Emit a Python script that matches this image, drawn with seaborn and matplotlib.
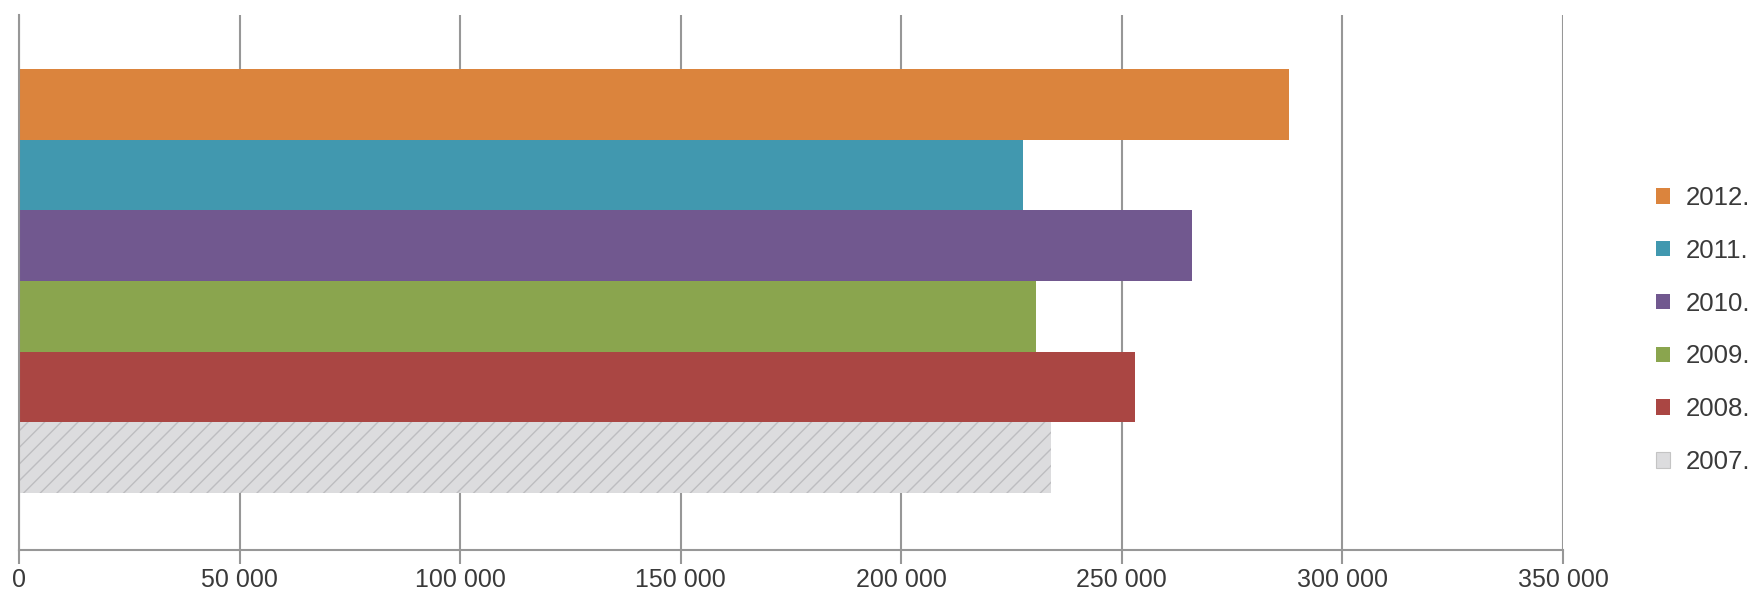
import pandas as pd
import matplotlib
matplotlib.use('Agg')
import matplotlib.pyplot as plt
import seaborn as sns
from matplotlib.patches import Patch
from matplotlib.ticker import FuncFormatter

sns.set_style('white')
plt.rcParams['font.family'] = ['Liberation Sans', 'DejaVu Sans']

# 데이터
years = ['2012.', '2011.', '2010.', '2009.', '2008.', '2007.']
values = [288000, 227700, 266000, 230500, 253000, 234000]
colors = ['#DB843D', '#4198AF', '#71588F', '#8AA54E', '#AA4643', '#DCDCDE']

df = pd.DataFrame({'year': years, 'value': values})

grid_c = '#979797'
text_c = '#3A3A3A'

fig = plt.figure(figsize=(17.64, 5.95), dpi=100)
ax = fig.add_axes([19 / 1764, 1 - 550 / 595, (1563 - 19) / 1764, (550 - 15) / 595])

sns.barplot(data=df, x='value', y='year', hue='year', order=years, hue_order=years,
            palette=dict(zip(years, colors)), saturation=1, width=1.0,
            orient='h', legend=False, ax=ax, zorder=2, linewidth=0)

# 2007 막대는 대리석 무늬 -> 옅은 빗금으로 흉내
plt.rcParams['hatch.linewidth'] = 1.2
for bar in ax.containers[-1]:
    bar.set_hatch('//')
    bar.set_edgecolor('#BDBDC0')
    bar.set_linewidth(0)

ax.set_xlim(0, 350000)
ax.set_ylim(6.307, -1.264)
ax.set_xticks(range(0, 350001, 50000))
ax.xaxis.set_major_formatter(FuncFormatter(lambda v, p: f'{int(v):,}'.replace(',', ' ')))
ax.set_yticks([])
ax.set_xlabel('')
ax.set_ylabel('')

ax.grid(axis='x', color=grid_c, linewidth=1.5, zorder=0)
ax.set_axisbelow(True)
for s in ['top', 'right']:
    ax.spines[s].set_visible(False)
for s in ['left', 'bottom']:
    ax.spines[s].set_color(grid_c)
    ax.spines[s].set_linewidth(1.5)
ax.tick_params(axis='x', bottom=True, direction='out', length=10, width=1.5,
               color=grid_c, labelsize=18, labelcolor=text_c, pad=3)

handles = [Patch(facecolor=c, edgecolor='none') for c in colors]
handles[-1] = Patch(facecolor=colors[-1], edgecolor='#C4C4C4', linewidth=0.8)
fig.legend(handles, years, loc='center left', bbox_to_anchor=(1656 / 1764, 1 - 330 / 595),
           frameon=False, fontsize=18.5, labelcolor=text_c, handlelength=0.55,
           handleheight=0.55, handletextpad=0.6, labelspacing=1.12,
           borderpad=0, borderaxespad=0)

fig.savefig('out.png', dpi=100)
